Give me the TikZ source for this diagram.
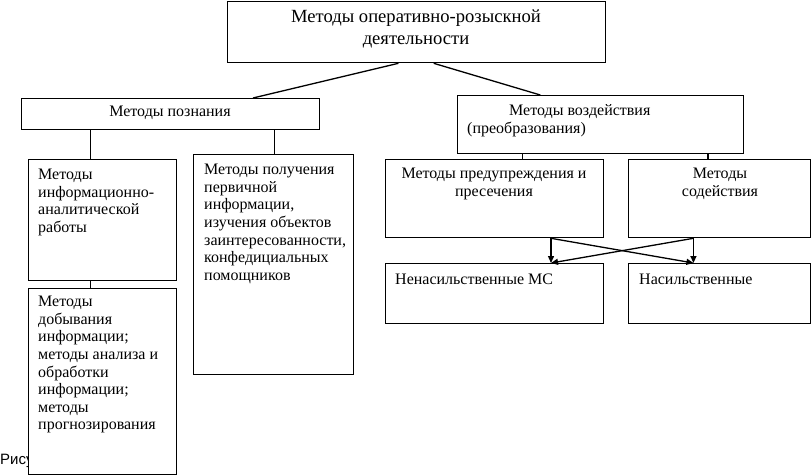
\documentclass[tikz,border=0pt]{standalone}
\usepackage{fontspec}
\setmainfont{Liberation Serif}
\newfontfamily\capfont{Liberation Sans}
\usetikzlibrary{arrows.meta,calc}
\begin{document}
\begin{tikzpicture}[x=1pt,y=-1pt,
  box/.style={draw=black,line width=1.3pt,fill=white,rectangle,inner sep=0pt,anchor=north west},
  txt/.style={inner sep=0pt,font=\fontsize{16}{17.6}\selectfont},
  ln/.style={line width=1.3pt},
  arr/.style={line width=1.3pt,-{Triangle[length=7pt,width=6pt]}}]
\useasboundingbox (0,0) rectangle (812,475);
% caption text (partly hidden by box)
\node[anchor=west,inner sep=0pt,font=\capfont\fontsize{15}{17}\selectfont] (cap) at (0,461) {Рисунок};
% boxes
\node[box,minimum width=378pt,minimum height=61pt] (top) at (227,1) {};
\node[box,minimum width=298pt,minimum height=31pt] (pozn) at (21,98) {};
\node[box,minimum width=286pt,minimum height=58pt] (vozd) at (457,95) {};
\node[box,minimum width=148pt,minimum height=121pt] (b1) at (28,159) {};
\node[box,minimum width=160pt,minimum height=220pt] (b2) at (193,154) {};
\node[box,minimum width=148pt,minimum height=186pt] (b3) at (28,288) {};
\node[box,minimum width=218pt,minimum height=78pt] (pr) at (385,159) {};
\node[box,minimum width=182pt,minimum height=78pt] (sod) at (628,159) {};
\node[box,minimum width=218pt,minimum height=60pt] (nen) at (385,263) {};
\node[box,minimum width=182pt,minimum height=60pt] (nas) at (628,263) {};
% texts
\node[txt,align=center,font=\fontsize{18.6}{22}\selectfont] (ttop) at (416,29) {Методы оперативно-розыскной\\деятельности};
\node[txt] (tpozn) at (170,113) {Методы познания};
\node[txt,anchor=west] (tvozd1) at (509,112) {Методы воздействия};
\node[txt,anchor=west] (tvozd2) at (467,129) {(преобразования)};
\node[txt,align=left,anchor=north west] (tb1) at (38,169) {Методы\\информационно-\\аналитической\\работы};
\node[txt,align=left,anchor=north west] (tb2) at (204,164) {Методы получения\\первичной\\информации,\\изучения объектов\\заинтересованности,\\конфедициальных\\помощников};
\node[txt,align=left,anchor=north west] (tb3) at (38,296) {Методы\\добывания\\информации;\\методы анализа и\\обработки\\информации;\\методы\\прогнозирования};
\node[txt,align=center] (tpr) at (494,184) {Методы предупреждения и\\пресечения};
\node[txt,align=center] (tsod) at (720,184) {Методы\\содействия};
\node[txt,anchor=west] (tnen) at (395,279) {Ненасильственные МС};
\node[txt,anchor=west] (tnas) at (639,279) {Насильственные};
% connectors
\coordinate (t1) at ($(top.south west)!0.452!(top.south east)$);
\coordinate (t2) at ($(top.south west)!0.545!(top.south east)$);
\coordinate (pz) at ($(pozn.north west)!0.775!(pozn.north east)$);
\coordinate (vz) at ($(vozd.north west)!0.29!(vozd.north east)$);
\draw[ln] (t1) -- (pz);
\draw[ln] (t2) -- (vz);
\coordinate (p1) at ($(pozn.south west)!0.232!(pozn.south east)$);
\coordinate (p2) at ($(pozn.south west)!0.846!(pozn.south east)$);
\draw[ln] (p1) -- (p1 |- b1.north);
\draw[ln] (p2) -- (p2 |- b2.north);
\draw[ln] (p1 |- b1.south) -- (p1 |- b3.north);
\coordinate (v1) at ($(vozd.south west)!0.227!(vozd.south east)$);
\coordinate (v2) at ($(vozd.south west)!0.874!(vozd.south east)$);
\draw[ln] (v1) -- (v1 |- pr.north);
\draw[ln] (v2) -- (v2 |- sod.north);
\coordinate (a1) at ($(pr.south west)!0.757!(pr.south east)$);
\coordinate (a2) at ($(sod.south west)!0.357!(sod.south east)$);
\draw[arr] (a1) -- (a1 |- nen.north);
\draw[arr] (a1) -- (a2 |- nas.north);
\draw[arr] (a2) -- (a2 |- nas.north);
\draw[arr] (a2) -- (a1 |- nen.north);
\end{tikzpicture}
\end{document}
